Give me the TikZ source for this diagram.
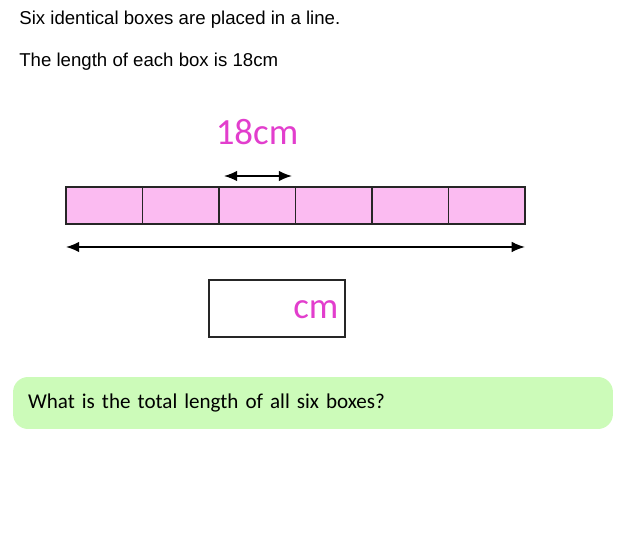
\documentclass[tikz,border=0pt]{standalone}
\usepackage{fontspec}
\setmainfont{Liberation Sans}
\newfontfamily\comicfont{Carlito}
\usepackage{tikz}
\usetikzlibrary{arrows.meta,positioning}

\definecolor{boxpink}{RGB}{251,187,241}
\definecolor{labelpink}{RGB}{226,62,205}
\definecolor{askgreen}{RGB}{204,251,185}

\begin{document}
\begin{tikzpicture}[
    x=0.02cm, y=-0.02cm,
    intro/.style={anchor=base west, inner sep=0pt, font=\fontsize{10.6}{12}\selectfont},
    cell/.style={draw=black!85, fill=boxpink, line width=0.9pt, minimum width=1.53cm, minimum height=0.74cm, inner sep=0pt, outer sep=0pt},
    pinklabel/.style={text=labelpink, inner sep=0pt, font=\comicfont\fontsize{21}{23}\selectfont},
    arr/.style={{Latex[length=7.5pt,width=6pt]}-{Latex[length=7.5pt,width=6pt]}, line width=0.85pt},
    answer/.style={draw=black!85, line width=0.9pt, minimum width=2.72cm, minimum height=1.14cm, inner sep=0pt},
    ask/.style={fill=askgreen, rounded corners=0.3cm, minimum width=12cm, minimum height=1.04cm, inner xsep=0.3cm, text width=11.4cm, align=left, font=\comicfont\fontsize{12}{14}\selectfont}
  ]
    \useasboundingbox (0,0) rectangle (625,540);

    % statement
    \node[intro] (line1) at (19,25) {Six identical boxes are placed in a line.};
    \node[intro] (line2) at (19,67) {The length of each box is 18cm};

    % the six boxes
    \node[cell] (cell1) at (104.25,205.5) {};
    \foreach \i [count=\j from 1] in {2,...,6}
      \node[cell, right=0pt of cell\j] (cell\i) {};

    % one box
    \coordinate (oneL) at ([xshift=0.1cm, yshift=0.96cm]cell3.south west);
    \coordinate (oneR) at ([xshift=-0.07cm, yshift=0.96cm]cell3.south east);
    \draw[arr] (oneL) -- (oneR);
    \node[pinklabel, anchor=base] (onelen) at (257,145) {18cm};

    % all six
    \coordinate (allL) at ([yshift=-0.46cm]cell1.south west);
    \coordinate (allR) at ([yshift=-0.46cm]cell6.south east);
    \draw[arr] (allL) -- (allR);

    % answer box
    \node[answer] (total) at (277,308.5) {};
    \node[pinklabel, anchor=base east] (unit) at ([xshift=-0.14cm, yshift=0.38cm]total.south east) {cm};

    % question
    \node[ask] (question) at (313,403) {What is the total length of all six boxes?};
\end{tikzpicture}
\end{document}
